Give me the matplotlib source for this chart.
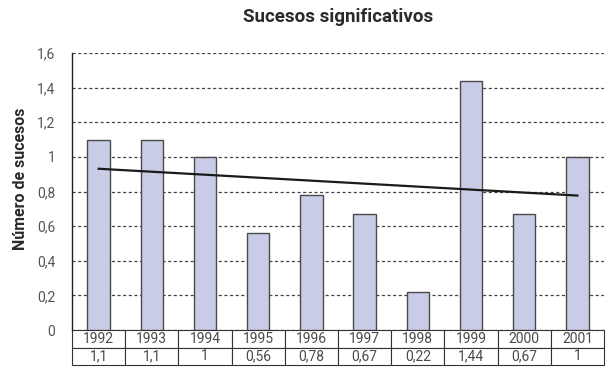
import matplotlib
matplotlib.use("Agg")
import matplotlib.pyplot as plt
import numpy as np

years = ["1992", "1993", "1994", "1995", "1996", "1997", "1998", "1999", "2000", "2001"]
sucesos = [1.1, 1.1, 1.0, 0.56, 0.78, 0.67, 0.22, 1.44, 0.67, 1.0]
value_labels = ["1,1", "1,1", "1", "0,56", "0,78", "0,67", "0,22", "1,44", "0,67", "1"]
yticks = [0, 0.2, 0.4, 0.6, 0.8, 1.0, 1.2, 1.4, 1.6]
ytick_labels = ["0", "0,2", "0,4", "0,6", "0,8", "1", "1,2", "1,4", "1,6"]

font = ["Roboto", "DejaVu Sans"]
text_color = "#2a2a2a"

fig = plt.figure(figsize=(6.08, 3.69), dpi=100)
ax = fig.add_axes([72 / 608, 1 - 330 / 369, 532 / 608, 277 / 369])

x = np.arange(len(years))
ax.bar(x, sucesos, width=0.42, color="#c8cce6", edgecolor="#4a4a4a", linewidth=1.0, zorder=3)

# linear trend line
coef = np.polyfit(x, sucesos, 1)
ax.plot([x[0], x[-1]], np.polyval(coef, [x[0], x[-1]]), color="#1a1a1a", linewidth=1.6, zorder=4)

ax.set_xlim(-0.5, len(years) - 0.5)
ax.set_ylim(0, 1.6)
ax.set_yticks(yticks)
ax.set_yticklabels(ytick_labels, family=font, fontsize=10, color="#555555")
ax.tick_params(axis="y", length=0, pad=12)
ax.set_xticks([])
ax.yaxis.grid(True, linestyle=(0, (2.5, 2)), color="#444444", linewidth=0.9, zorder=0)
for side in ["top", "right", "bottom"]:
    ax.spines[side].set_visible(False)
ax.spines["left"].set_color("#222222")
ax.spines["left"].set_linewidth(1.0)

tbl = ax.table(cellText=[years, value_labels], cellLoc="center",
               bbox=[0, -35 / 277, 1, 35 / 277])
tbl.auto_set_font_size(False)
for (r, c), cell in tbl.get_celld().items():
    cell.set_edgecolor("#333333")
    cell.set_linewidth(0.8)
    cell.get_text().set_fontsize(10)
    cell.get_text().set_color("#4a4a4a")
    cell.get_text().set_family(font)

ax.set_ylabel("Número de sucesos", family=font, fontweight="bold", fontsize=11.5,
              color=text_color)
ax.yaxis.set_label_coords(-0.083, 0.545)
fig.text(338 / 608, 1 - 17 / 369, "Sucesos significativos", family=font, fontweight="bold",
         fontsize=13.5, color=text_color, ha="center", va="center")

fig.savefig("out.png", dpi=100)
